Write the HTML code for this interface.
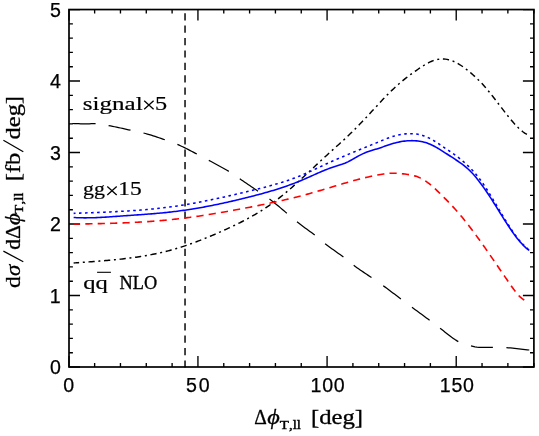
<!DOCTYPE html>
<html><head><meta charset="utf-8"><title>plot</title>
<style>html,body{margin:0;padding:0;background:#fff}svg{display:block}</style></head>
<body>
<svg width="539" height="436" viewBox="0 0 539 436">
<rect width="539" height="436" fill="#fff"/>
<rect x="69.0" y="9.55" width="464.90" height="357.45" fill="none" stroke="#000" stroke-width="1.7"/>
<path d="M69.00,367.0v-11.0M69.00,9.55v11.0M94.63,367.0v-3.9M94.63,9.55v3.9M120.46,367.0v-3.9M120.46,9.55v3.9M146.28,367.0v-3.9M146.28,9.55v3.9M172.11,367.0v-3.9M172.11,9.55v3.9M197.94,367.0v-11.0M197.94,9.55v11.0M223.77,367.0v-3.9M223.77,9.55v3.9M249.59,367.0v-3.9M249.59,9.55v3.9M275.42,367.0v-3.9M275.42,9.55v3.9M301.25,367.0v-3.9M301.25,9.55v3.9M327.08,367.0v-11.0M327.08,9.55v11.0M352.91,367.0v-3.9M352.91,9.55v3.9M378.73,367.0v-3.9M378.73,9.55v3.9M404.56,367.0v-3.9M404.56,9.55v3.9M430.39,367.0v-3.9M430.39,9.55v3.9M456.22,367.0v-11.0M456.22,9.55v11.0M482.04,367.0v-3.9M482.04,9.55v3.9M507.87,367.0v-3.9M507.87,9.55v3.9M533.90,367.0v-3.9M533.90,9.55v3.9M69.0,367.00h11.0M533.9,367.00h-11.0M69.0,352.70h3.9M533.9,352.70h-3.9M69.0,338.40h3.9M533.9,338.40h-3.9M69.0,324.11h3.9M533.9,324.11h-3.9M69.0,309.81h3.9M533.9,309.81h-3.9M69.0,295.51h11.0M533.9,295.51h-11.0M69.0,281.21h3.9M533.9,281.21h-3.9M69.0,266.91h3.9M533.9,266.91h-3.9M69.0,252.62h3.9M533.9,252.62h-3.9M69.0,238.32h3.9M533.9,238.32h-3.9M69.0,224.02h11.0M533.9,224.02h-11.0M69.0,209.72h3.9M533.9,209.72h-3.9M69.0,195.42h3.9M533.9,195.42h-3.9M69.0,181.13h3.9M533.9,181.13h-3.9M69.0,166.83h3.9M533.9,166.83h-3.9M69.0,152.53h11.0M533.9,152.53h-11.0M69.0,138.23h3.9M533.9,138.23h-3.9M69.0,123.93h3.9M533.9,123.93h-3.9M69.0,109.64h3.9M533.9,109.64h-3.9M69.0,95.34h3.9M533.9,95.34h-3.9M69.0,81.04h11.0M533.9,81.04h-11.0M69.0,66.74h3.9M533.9,66.74h-3.9M69.0,52.44h3.9M533.9,52.44h-3.9M69.0,38.15h3.9M533.9,38.15h-3.9M69.0,23.85h3.9M533.9,23.85h-3.9M69.0,9.55h11.0M533.9,9.55h-11.0" stroke="#000" stroke-width="1.35" fill="none"/>
<path d="M185.03,367.6V9.55" stroke="#000" stroke-width="1.45" fill="none" stroke-dasharray="7.2 5.2"/>
<path d="M72.30,123.50 L74.42,123.51 L76.54,123.60 L78.65,123.74 L80.77,123.89 L82.89,123.98 L85.01,123.99 L87.13,123.93 L89.25,123.82 L91.36,123.71 L93.48,123.63 L95.60,123.60M108.60,125.60 L110.59,125.96 L112.58,126.34 L114.57,126.74 L116.56,127.15 L118.55,127.58 L120.55,128.01 L122.54,128.45 L124.53,128.89 L126.52,129.33 L128.51,129.77 L130.50,130.20M143.50,133.00 L145.44,133.51 L147.37,134.04 L149.31,134.61 L151.25,135.20 L153.18,135.81 L155.12,136.44 L157.05,137.08 L158.99,137.74 L160.93,138.40 L162.86,139.06 L164.80,139.73M177.40,144.40 L179.16,145.16 L180.93,145.96 L182.69,146.79 L184.45,147.65 L186.22,148.53 L187.98,149.43 L189.75,150.34 L191.51,151.25 L193.27,152.17 L195.04,153.09 L196.80,154.00M208.80,160.35 L210.62,161.32 L212.44,162.29 L214.25,163.26 L216.07,164.23 L217.89,165.20 L219.71,166.18 L221.53,167.18 L223.35,168.20 L225.16,169.24 L226.98,170.30 L228.80,171.40M239.80,178.80 L241.45,179.92 L243.11,181.04 L244.76,182.17 L246.42,183.30 L248.07,184.43 L249.73,185.56 L251.38,186.69 L253.04,187.82 L254.69,188.95 L256.35,190.07 L258.00,191.20M269.50,199.00 L271.07,200.18 L272.65,201.40 L274.22,202.65 L275.79,203.94 L277.36,205.24 L278.94,206.56 L280.51,207.89 L282.08,209.22 L283.65,210.55 L285.23,211.88 L286.80,213.20M297.00,221.80 L298.61,223.07 L300.22,224.30 L301.83,225.51 L303.44,226.70 L305.05,227.88 L306.65,229.06 L308.26,230.23 L309.87,231.42 L311.48,232.62 L313.09,233.85 L314.70,235.10M325.10,243.70 L326.76,244.98 L328.43,246.23 L330.09,247.45 L331.75,248.65 L333.42,249.84 L335.08,251.03 L336.75,252.21 L338.41,253.41 L340.07,254.61 L341.74,255.84 L343.40,257.10M353.70,265.30 L355.32,266.49 L356.94,267.65 L358.55,268.79 L360.17,269.91 L361.79,271.02 L363.41,272.11 L365.03,273.21 L366.65,274.30 L368.26,275.39 L369.88,276.49 L371.50,277.60M383.20,285.70 L384.81,286.87 L386.42,288.05 L388.03,289.25 L389.64,290.45 L391.25,291.67 L392.85,292.89 L394.46,294.12 L396.07,295.35 L397.68,296.57 L399.29,297.79 L400.90,299.00M412.00,307.30 L413.60,308.49 L415.20,309.67 L416.80,310.85 L418.40,312.02 L420.00,313.20 L421.60,314.37 L423.20,315.55 L424.80,316.73 L426.40,317.91 L428.00,319.10 L429.60,320.30M440.10,328.30 L441.75,329.56 L443.41,330.84 L445.06,332.14 L446.72,333.45 L448.37,334.75 L450.03,336.02 L451.68,337.26 L453.34,338.45 L454.99,339.58 L456.65,340.63 L458.30,341.60M471.00,345.90 L472.99,346.34 L474.98,346.80 L476.97,347.16 L478.96,347.30 L480.95,347.33 L482.95,347.35 L484.94,347.37 L486.93,347.38 L488.92,347.39 L490.91,347.40 L492.90,347.40M506.40,347.60 L508.48,347.76 L510.56,347.96 L512.65,348.19 L514.73,348.43 L516.81,348.67 L518.89,348.89 L520.97,349.11 L523.05,349.33 L525.14,349.55 L527.22,349.78 L529.30,350.00" stroke="#000" stroke-width="1.25" fill="none"/>
<path d="M73.65,262.99 L75.17,262.88 L76.70,262.77 L78.22,262.66 L79.74,262.55 L81.27,262.44 L82.79,262.33 L84.32,262.22 L85.84,262.11 L87.36,261.99 L88.89,261.88 L90.41,261.77 L91.93,261.66 L93.46,261.54 L94.98,261.43 L96.51,261.31 L98.03,261.19 L99.55,261.07 L101.08,260.95 L102.60,260.83 L104.12,260.70 L105.65,260.57 L107.17,260.44 L108.70,260.31 L110.22,260.17 L111.74,260.03 L113.27,259.88 L114.79,259.73 L116.31,259.58 L117.84,259.43 L119.36,259.27 L120.89,259.10 L122.41,258.93 L123.93,258.76 L125.46,258.58 L126.98,258.40 L128.50,258.21 L130.03,258.01 L131.55,257.81 L133.08,257.61 L134.60,257.39 L136.12,257.18 L137.65,256.95 L139.17,256.72 L140.69,256.48 L142.22,256.24 L143.74,255.98 L145.27,255.73 L146.79,255.46 L148.31,255.18 L149.84,254.90 L151.36,254.61 L152.88,254.31 L154.41,254.00 L155.93,253.69 L157.46,253.36 L158.98,253.03 L160.50,252.69 L162.03,252.34 L163.55,251.98 L165.07,251.60 L166.60,251.22 L168.12,250.83 L169.65,250.43 L171.17,250.02 L172.69,249.60 L174.22,249.16 L175.74,248.72 L177.26,248.27 L178.79,247.80 L180.31,247.33 L181.84,246.84 L183.36,246.35 L184.88,245.85 L186.41,245.34 L187.93,244.81 L189.45,244.28 L190.98,243.75 L192.50,243.20 L194.03,242.64 L195.55,242.08 L197.07,241.50 L198.60,240.92 L200.12,240.34 L201.64,239.74 L203.17,239.14 L204.69,238.53 L206.22,237.91 L207.74,237.29 L209.26,236.65 L210.79,236.02 L212.31,235.37 L213.83,234.72 L215.36,234.07 L216.88,233.41 L218.41,232.74 L219.93,232.07 L221.45,231.39 L222.98,230.71 L224.50,230.02 L226.02,229.33 L227.55,228.63 L229.07,227.92 L230.60,227.21 L232.12,226.49 L233.64,225.77 L235.17,225.03 L236.69,224.29 L238.21,223.54 L239.74,222.78 L241.26,222.01 L242.79,221.23 L244.31,220.43 L245.83,219.63 L247.36,218.81 L248.88,217.98 L250.40,217.14 L251.93,216.28 L253.45,215.41 L254.98,214.52 L256.50,213.62 L258.02,212.70 L259.55,211.77 L261.07,210.81 L262.59,209.85 L264.12,208.86 L265.64,207.85 L267.17,206.83 L268.69,205.79 L270.21,204.72 L271.74,203.64 L273.26,202.53 L274.78,201.40 L276.31,200.25 L277.83,199.08 L279.36,197.89 L280.88,196.68 L282.40,195.45 L283.93,194.20 L285.45,192.93 L286.97,191.64 L288.50,190.34 L290.02,189.03 L291.55,187.70 L293.07,186.36 L294.59,185.00 L296.12,183.64 L297.64,182.26 L299.16,180.88 L300.69,179.49 L302.21,178.09 L303.74,176.68 L305.26,175.27 L306.78,173.85 L308.31,172.43 L309.83,171.01 L311.35,169.58 L312.88,168.16 L314.40,166.73 L315.93,165.30 L317.45,163.88 L318.97,162.46 L320.50,161.04 L322.02,159.62 L323.54,158.22 L325.07,156.81 L326.59,155.42 L328.12,154.03 L329.64,152.65 L331.16,151.28 L332.69,149.91 L334.21,148.54 L335.73,147.17 L337.26,145.80 L338.78,144.43 L340.31,143.05 L341.83,141.66 L343.35,140.27 L344.88,138.86 L346.40,137.44 L347.92,136.01 L349.45,134.56 L350.97,133.10 L352.50,131.61 L354.02,130.10 L355.54,128.57 L357.07,127.02 L358.59,125.46 L360.11,123.87 L361.64,122.28 L363.16,120.67 L364.69,119.05 L366.21,117.42 L367.73,115.78 L369.26,114.14 L370.78,112.49 L372.30,110.84 L373.83,109.19 L375.35,107.54 L376.88,105.89 L378.40,104.25 L379.92,102.61 L381.45,100.99 L382.97,99.37 L384.49,97.77 L386.02,96.19 L387.54,94.63 L389.07,93.09 L390.59,91.59 L392.11,90.11 L393.64,88.67 L395.16,87.26 L396.68,85.88 L398.21,84.53 L399.73,83.20 L401.26,81.91 L402.78,80.65 L404.30,79.41 L405.83,78.19 L407.35,77.00 L408.87,75.83 L410.40,74.68 L411.92,73.56 L413.45,72.45 L414.97,71.36 L416.49,70.29 L418.02,69.23 L419.54,68.19 L421.06,67.18 L422.59,66.19 L424.11,65.25 L425.64,64.34 L427.16,63.48 L428.68,62.68 L430.21,61.94 L431.73,61.27 L433.25,60.67 L434.78,60.15 L436.30,59.73 L437.83,59.39 L439.35,59.16 L440.87,59.01 L442.40,58.97 L443.92,59.02 L445.44,59.15 L446.97,59.38 L448.49,59.70 L450.02,60.11 L451.54,60.60 L453.06,61.17 L454.59,61.83 L456.11,62.57 L457.63,63.39 L459.16,64.28 L460.68,65.24 L462.21,66.26 L463.73,67.35 L465.25,68.48 L466.78,69.66 L468.30,70.88 L469.82,72.13 L471.35,73.41 L472.87,74.74 L474.40,76.09 L475.92,77.50 L477.44,78.94 L478.97,80.44 L480.49,81.99 L482.01,83.60 L483.54,85.27 L485.06,87.00 L486.59,88.77 L488.11,90.60 L489.63,92.46 L491.16,94.36 L492.68,96.29 L494.20,98.24 L495.73,100.21 L497.25,102.20 L498.78,104.19 L500.30,106.19 L501.82,108.18 L503.35,110.16 L504.87,112.13 L506.39,114.08 L507.92,116.00 L509.44,117.90 L510.97,119.75 L512.49,121.55 L514.01,123.30 L515.54,124.97 L517.06,126.57 L518.58,128.08 L520.11,129.50 L521.63,130.80 L523.16,131.99 L524.68,133.06 L526.20,133.98 L527.73,134.77 L529.25,135.39" stroke="#000" stroke-width="1.45" fill="none" stroke-dasharray="6.2 3.7 2 3.7" stroke-dashoffset="0.7"/>
<path d="M73.65,224.07 L75.17,224.05 L76.69,224.03 L78.21,224.00 L79.73,223.98 L81.25,223.96 L82.77,223.93 L84.29,223.91 L85.80,223.88 L87.32,223.85 L88.84,223.83 L90.36,223.80 L91.88,223.77 L93.40,223.74 L94.92,223.71 L96.44,223.68 L97.96,223.65 L99.48,223.62 L101.00,223.58 L102.52,223.55 L104.04,223.51 L105.56,223.47 L107.08,223.43 L108.60,223.39 L110.12,223.35 L111.63,223.30 L113.15,223.26 L114.67,223.21 L116.19,223.16 L117.71,223.11 L119.23,223.05 L120.75,223.00 L122.27,222.94 L123.79,222.88 L125.31,222.82 L126.83,222.75 L128.35,222.69 L129.87,222.62 L131.39,222.55 L132.91,222.47 L134.43,222.40 L135.95,222.32 L137.47,222.24 L138.98,222.15 L140.50,222.07 L142.02,221.98 L143.54,221.88 L145.06,221.79 L146.58,221.69 L148.10,221.59 L149.62,221.48 L151.14,221.37 L152.66,221.26 L154.18,221.15 L155.70,221.03 L157.22,220.90 L158.74,220.78 L160.26,220.65 L161.78,220.52 L163.30,220.38 L164.82,220.24 L166.33,220.10 L167.85,219.95 L169.37,219.79 L170.89,219.64 L172.41,219.48 L173.93,219.31 L175.45,219.15 L176.97,218.97 L178.49,218.80 L180.01,218.62 L181.53,218.43 L183.05,218.24 L184.57,218.05 L186.09,217.86 L187.61,217.66 L189.13,217.45 L190.65,217.25 L192.16,217.04 L193.68,216.83 L195.20,216.61 L196.72,216.39 L198.24,216.17 L199.76,215.94 L201.28,215.71 L202.80,215.48 L204.32,215.25 L205.84,215.01 L207.36,214.77 L208.88,214.53 L210.40,214.29 L211.92,214.04 L213.44,213.79 L214.96,213.54 L216.48,213.28 L218.00,213.03 L219.51,212.77 L221.03,212.51 L222.55,212.24 L224.07,211.98 L225.59,211.71 L227.11,211.44 L228.63,211.17 L230.15,210.90 L231.67,210.63 L233.19,210.35 L234.71,210.07 L236.23,209.79 L237.75,209.51 L239.27,209.23 L240.79,208.94 L242.31,208.65 L243.83,208.36 L245.34,208.07 L246.86,207.78 L248.38,207.48 L249.90,207.19 L251.42,206.89 L252.94,206.59 L254.46,206.28 L255.98,205.98 L257.50,205.67 L259.02,205.37 L260.54,205.06 L262.06,204.74 L263.58,204.43 L265.10,204.11 L266.62,203.80 L268.14,203.48 L269.66,203.16 L271.18,202.83 L272.69,202.51 L274.21,202.18 L275.73,201.85 L277.25,201.52 L278.77,201.19 L280.29,200.86 L281.81,200.52 L283.33,200.18 L284.85,199.84 L286.37,199.49 L287.89,199.14 L289.41,198.78 L290.93,198.42 L292.45,198.06 L293.97,197.69 L295.49,197.32 L297.01,196.94 L298.53,196.56 L300.04,196.17 L301.56,195.77 L303.08,195.37 L304.60,194.96 L306.12,194.54 L307.64,194.12 L309.16,193.70 L310.68,193.27 L312.20,192.84 L313.72,192.40 L315.24,191.96 L316.76,191.51 L318.28,191.06 L319.80,190.61 L321.32,190.16 L322.84,189.71 L324.36,189.25 L325.87,188.79 L327.39,188.34 L328.91,187.88 L330.43,187.42 L331.95,186.96 L333.47,186.50 L334.99,186.05 L336.51,185.59 L338.03,185.14 L339.55,184.68 L341.07,184.23 L342.59,183.79 L344.11,183.34 L345.63,182.90 L347.15,182.46 L348.67,182.03 L350.19,181.60 L351.71,181.18 L353.22,180.76 L354.74,180.34 L356.26,179.93 L357.78,179.53 L359.30,179.14 L360.82,178.75 L362.34,178.37 L363.86,177.99 L365.38,177.62 L366.90,177.27 L368.42,176.92 L369.94,176.58 L371.46,176.24 L372.98,175.92 L374.50,175.61 L376.02,175.31 L377.54,175.01 L379.06,174.73 L380.57,174.46 L382.09,174.21 L383.61,173.98 L385.13,173.77 L386.65,173.58 L388.17,173.43 L389.69,173.31 L391.21,173.23 L392.73,173.20 L394.25,173.20 L395.77,173.24 L397.29,173.32 L398.81,173.43 L400.33,173.56 L401.85,173.71 L403.37,173.88 L404.89,174.06 L406.40,174.26 L407.92,174.47 L409.44,174.71 L410.96,174.98 L412.48,175.30 L414.00,175.67 L415.52,176.11 L417.04,176.61 L418.56,177.19 L420.08,177.86 L421.60,178.63 L423.12,179.48 L424.64,180.42 L426.16,181.44 L427.68,182.54 L429.20,183.70 L430.72,184.93 L432.24,186.21 L433.75,187.55 L435.27,188.93 L436.79,190.34 L438.31,191.80 L439.83,193.28 L441.35,194.78 L442.87,196.30 L444.39,197.83 L445.91,199.37 L447.43,200.92 L448.95,202.49 L450.47,204.08 L451.99,205.70 L453.51,207.34 L455.03,209.01 L456.55,210.71 L458.07,212.45 L459.59,214.22 L461.10,216.03 L462.62,217.86 L464.14,219.73 L465.66,221.63 L467.18,223.56 L468.70,225.51 L470.22,227.49 L471.74,229.49 L473.26,231.52 L474.78,233.57 L476.30,235.64 L477.82,237.72 L479.34,239.83 L480.86,241.95 L482.38,244.09 L483.90,246.24 L485.42,248.40 L486.93,250.57 L488.45,252.76 L489.97,254.95 L491.49,257.15 L493.01,259.36 L494.53,261.57 L496.05,263.78 L497.57,266.00 L499.09,268.22 L500.61,270.44 L502.13,272.66 L503.65,274.88 L505.17,277.10 L506.69,279.32 L508.21,281.53 L509.73,283.74 L511.25,285.92 L512.77,288.05 L514.28,290.10 L515.80,292.06 L517.32,293.89 L518.84,295.58 L520.36,297.11 L521.88,298.44 L523.40,299.56 L524.92,300.44 L526.44,301.06 L527.96,301.40" stroke="#f00" stroke-width="1.6" fill="none" stroke-dasharray="7.2 5.18" stroke-dashoffset="0.7"/>
<path d="M73.65,217.50 L75.17,217.59 L76.70,217.67 L78.22,217.73 L79.74,217.78 L81.27,217.82 L82.79,217.85 L84.32,217.86 L85.84,217.86 L87.36,217.85 L88.89,217.84 L90.41,217.81 L91.93,217.77 L93.46,217.72 L94.98,217.67 L96.51,217.61 L98.03,217.54 L99.55,217.47 L101.08,217.39 L102.60,217.30 L104.12,217.21 L105.65,217.12 L107.17,217.02 L108.70,216.91 L110.22,216.81 L111.74,216.70 L113.27,216.59 L114.79,216.48 L116.31,216.37 L117.84,216.26 L119.36,216.15 L120.89,216.04 L122.41,215.93 L123.93,215.83 L125.46,215.72 L126.98,215.62 L128.50,215.51 L130.03,215.41 L131.55,215.30 L133.08,215.20 L134.60,215.09 L136.12,214.99 L137.65,214.88 L139.17,214.77 L140.69,214.66 L142.22,214.55 L143.74,214.44 L145.27,214.33 L146.79,214.22 L148.31,214.10 L149.84,213.98 L151.36,213.86 L152.88,213.73 L154.41,213.61 L155.93,213.48 L157.46,213.34 L158.98,213.21 L160.50,213.06 L162.03,212.92 L163.55,212.77 L165.07,212.62 L166.60,212.46 L168.12,212.30 L169.65,212.13 L171.17,211.96 L172.69,211.78 L174.22,211.60 L175.74,211.41 L177.26,211.21 L178.79,211.01 L180.31,210.81 L181.84,210.60 L183.36,210.39 L184.88,210.17 L186.41,209.94 L187.93,209.71 L189.45,209.48 L190.98,209.24 L192.50,208.99 L194.03,208.74 L195.55,208.49 L197.07,208.23 L198.60,207.97 L200.12,207.70 L201.64,207.43 L203.17,207.15 L204.69,206.87 L206.22,206.58 L207.74,206.30 L209.26,206.00 L210.79,205.70 L212.31,205.40 L213.83,205.10 L215.36,204.79 L216.88,204.47 L218.41,204.15 L219.93,203.83 L221.45,203.51 L222.98,203.18 L224.50,202.85 L226.02,202.51 L227.55,202.17 L229.07,201.83 L230.60,201.48 L232.12,201.13 L233.64,200.78 L235.17,200.42 L236.69,200.06 L238.21,199.70 L239.74,199.33 L241.26,198.96 L242.79,198.59 L244.31,198.21 L245.83,197.83 L247.36,197.45 L248.88,197.07 L250.40,196.68 L251.93,196.29 L253.45,195.90 L254.98,195.50 L256.50,195.10 L258.02,194.70 L259.55,194.29 L261.07,193.88 L262.59,193.46 L264.12,193.04 L265.64,192.61 L267.17,192.18 L268.69,191.74 L270.21,191.30 L271.74,190.85 L273.26,190.39 L274.78,189.92 L276.31,189.45 L277.83,188.97 L279.36,188.48 L280.88,187.98 L282.40,187.48 L283.93,186.97 L285.45,186.44 L286.97,185.91 L288.50,185.37 L290.02,184.82 L291.55,184.26 L293.07,183.69 L294.59,183.11 L296.12,182.51 L297.64,181.91 L299.16,181.30 L300.69,180.67 L302.21,180.03 L303.74,179.38 L305.26,178.72 L306.78,178.05 L308.31,177.38 L309.83,176.70 L311.35,176.02 L312.88,175.34 L314.40,174.65 L315.93,173.98 L317.45,173.30 L318.97,172.63 L320.50,171.97 L322.02,171.32 L323.54,170.68 L325.07,170.05 L326.59,169.44 L328.12,168.85 L329.64,168.27 L331.16,167.71 L332.69,167.18 L334.21,166.66 L335.73,166.18 L337.26,165.71 L338.78,165.26 L340.31,164.81 L341.83,164.33 L343.35,163.80 L344.88,163.22 L346.40,162.56 L347.92,161.83 L349.45,161.04 L350.97,160.21 L352.50,159.35 L354.02,158.48 L355.54,157.61 L357.07,156.76 L358.59,155.92 L360.11,155.12 L361.64,154.35 L363.16,153.62 L364.69,152.95 L366.21,152.34 L367.73,151.77 L369.26,151.24 L370.78,150.75 L372.30,150.28 L373.83,149.82 L375.35,149.36 L376.88,148.90 L378.40,148.43 L379.92,147.94 L381.45,147.42 L382.97,146.89 L384.49,146.35 L386.02,145.81 L387.54,145.28 L389.07,144.76 L390.59,144.26 L392.11,143.78 L393.64,143.33 L395.16,142.92 L396.68,142.53 L398.21,142.18 L399.73,141.87 L401.26,141.59 L402.78,141.34 L404.30,141.13 L405.83,140.96 L407.35,140.82 L408.87,140.73 L410.40,140.67 L411.92,140.65 L413.45,140.68 L414.97,140.75 L416.49,140.86 L418.02,141.02 L419.54,141.23 L421.06,141.49 L422.59,141.80 L424.11,142.18 L425.64,142.61 L427.16,143.10 L428.68,143.66 L430.21,144.28 L431.73,144.97 L433.25,145.72 L434.78,146.52 L436.30,147.38 L437.83,148.27 L439.35,149.19 L440.87,150.14 L442.40,151.10 L443.92,152.07 L445.44,153.04 L446.97,154.02 L448.49,155.00 L450.02,155.98 L451.54,156.97 L453.06,157.96 L454.59,158.97 L456.11,159.98 L457.63,161.00 L459.16,162.04 L460.68,163.11 L462.21,164.22 L463.73,165.37 L465.25,166.58 L466.78,167.86 L468.30,169.22 L469.82,170.67 L471.35,172.21 L472.87,173.84 L474.40,175.55 L475.92,177.35 L477.44,179.22 L478.97,181.16 L480.49,183.16 L482.01,185.23 L483.54,187.36 L485.06,189.54 L486.59,191.76 L488.11,194.04 L489.63,196.35 L491.16,198.69 L492.68,201.07 L494.20,203.47 L495.73,205.89 L497.25,208.33 L498.78,210.77 L500.30,213.22 L501.82,215.66 L503.35,218.09 L504.87,220.50 L506.39,222.88 L507.92,225.22 L509.44,227.53 L510.97,229.78 L512.49,231.98 L514.01,234.11 L515.54,236.18 L517.06,238.16 L518.58,240.07 L520.11,241.87 L521.63,243.58 L523.16,245.19 L524.68,246.68 L526.20,248.04 L527.73,249.28 L529.25,250.39" stroke="#00f" stroke-width="1.55" fill="none"/>
<path d="M73.65,213.37 L75.17,213.31 L76.70,213.25 L78.22,213.19 L79.74,213.14 L81.27,213.08 L82.79,213.02 L84.32,212.96 L85.84,212.91 L87.36,212.85 L88.89,212.79 L90.41,212.73 L91.93,212.67 L93.46,212.61 L94.98,212.56 L96.51,212.49 L98.03,212.43 L99.55,212.37 L101.08,212.31 L102.60,212.24 L104.12,212.18 L105.65,212.11 L107.17,212.05 L108.70,211.98 L110.22,211.91 L111.74,211.83 L113.27,211.76 L114.79,211.68 L116.31,211.61 L117.84,211.53 L119.36,211.44 L120.89,211.36 L122.41,211.28 L123.93,211.19 L125.46,211.10 L126.98,211.00 L128.50,210.91 L130.03,210.81 L131.55,210.71 L133.08,210.60 L134.60,210.50 L136.12,210.39 L137.65,210.27 L139.17,210.16 L140.69,210.04 L142.22,209.92 L143.74,209.79 L145.27,209.66 L146.79,209.53 L148.31,209.39 L149.84,209.25 L151.36,209.10 L152.88,208.95 L154.41,208.80 L155.93,208.64 L157.46,208.48 L158.98,208.31 L160.50,208.14 L162.03,207.97 L163.55,207.79 L165.07,207.60 L166.60,207.41 L168.12,207.22 L169.65,207.02 L171.17,206.82 L172.69,206.61 L174.22,206.39 L175.74,206.17 L177.26,205.95 L178.79,205.72 L180.31,205.48 L181.84,205.24 L183.36,205.00 L184.88,204.75 L186.41,204.49 L187.93,204.24 L189.45,203.97 L190.98,203.71 L192.50,203.43 L194.03,203.16 L195.55,202.88 L197.07,202.60 L198.60,202.31 L200.12,202.02 L201.64,201.72 L203.17,201.43 L204.69,201.12 L206.22,200.82 L207.74,200.51 L209.26,200.20 L210.79,199.88 L212.31,199.56 L213.83,199.24 L215.36,198.92 L216.88,198.59 L218.41,198.26 L219.93,197.93 L221.45,197.59 L222.98,197.25 L224.50,196.91 L226.02,196.57 L227.55,196.23 L229.07,195.88 L230.60,195.53 L232.12,195.18 L233.64,194.82 L235.17,194.47 L236.69,194.11 L238.21,193.75 L239.74,193.39 L241.26,193.03 L242.79,192.67 L244.31,192.30 L245.83,191.94 L247.36,191.57 L248.88,191.20 L250.40,190.83 L251.93,190.46 L253.45,190.09 L254.98,189.71 L256.50,189.34 L258.02,188.96 L259.55,188.58 L261.07,188.19 L262.59,187.80 L264.12,187.41 L265.64,187.01 L267.17,186.60 L268.69,186.19 L270.21,185.78 L271.74,185.36 L273.26,184.93 L274.78,184.49 L276.31,184.05 L277.83,183.60 L279.36,183.14 L280.88,182.67 L282.40,182.19 L283.93,181.71 L285.45,181.21 L286.97,180.70 L288.50,180.19 L290.02,179.66 L291.55,179.12 L293.07,178.57 L294.59,178.00 L296.12,177.42 L297.64,176.83 L299.16,176.23 L300.69,175.61 L302.21,174.98 L303.74,174.33 L305.26,173.68 L306.78,173.01 L308.31,172.33 L309.83,171.64 L311.35,170.94 L312.88,170.24 L314.40,169.53 L315.93,168.82 L317.45,168.10 L318.97,167.39 L320.50,166.67 L322.02,165.95 L323.54,165.24 L325.07,164.53 L326.59,163.82 L328.12,163.13 L329.64,162.43 L331.16,161.74 L332.69,161.06 L334.21,160.39 L335.73,159.72 L337.26,159.05 L338.78,158.39 L340.31,157.73 L341.83,157.08 L343.35,156.43 L344.88,155.79 L346.40,155.15 L347.92,154.51 L349.45,153.87 L350.97,153.24 L352.50,152.61 L354.02,151.98 L355.54,151.35 L357.07,150.73 L358.59,150.11 L360.11,149.48 L361.64,148.86 L363.16,148.24 L364.69,147.62 L366.21,147.00 L367.73,146.38 L369.26,145.76 L370.78,145.13 L372.30,144.51 L373.83,143.89 L375.35,143.26 L376.88,142.63 L378.40,142.00 L379.92,141.37 L381.45,140.74 L382.97,140.11 L384.49,139.50 L386.02,138.89 L387.54,138.31 L389.07,137.74 L390.59,137.21 L392.11,136.71 L393.64,136.24 L395.16,135.80 L396.68,135.41 L398.21,135.05 L399.73,134.73 L401.26,134.46 L402.78,134.22 L404.30,134.03 L405.83,133.87 L407.35,133.76 L408.87,133.70 L410.40,133.68 L411.92,133.71 L413.45,133.78 L414.97,133.91 L416.49,134.09 L418.02,134.33 L419.54,134.63 L421.06,135.00 L422.59,135.44 L424.11,135.94 L425.64,136.52 L427.16,137.15 L428.68,137.86 L430.21,138.62 L431.73,139.45 L433.25,140.33 L434.78,141.26 L436.30,142.22 L437.83,143.22 L439.35,144.24 L440.87,145.28 L442.40,146.32 L443.92,147.36 L445.44,148.40 L446.97,149.43 L448.49,150.47 L450.02,151.51 L451.54,152.57 L453.06,153.64 L454.59,154.73 L456.11,155.84 L457.63,156.98 L459.16,158.16 L460.68,159.37 L462.21,160.62 L463.73,161.91 L465.25,163.25 L466.78,164.64 L468.30,166.08 L469.82,167.59 L471.35,169.15 L472.87,170.78 L474.40,172.48 L475.92,174.25 L477.44,176.10 L478.97,178.03 L480.49,180.04 L482.01,182.14 L483.54,184.34 L485.06,186.61 L486.59,188.96 L488.11,191.37 L489.63,193.83 L491.16,196.34 L492.68,198.88 L494.20,201.44 L495.73,204.01 L497.25,206.59 L498.78,209.16 L500.30,211.73 L501.82,214.27 L503.35,216.80 L504.87,219.30 L506.39,221.76 L507.92,224.17 L509.44,226.54 L510.97,228.86 L512.49,231.11 L514.01,233.30 L515.54,235.41 L517.06,237.43 L518.58,239.37 L520.11,241.22 L521.63,242.97 L523.16,244.60 L524.68,246.13 L526.20,247.53 L527.73,248.81 L529.25,249.95" stroke="#00f" stroke-width="1.55" fill="none" stroke-dasharray="2.6 3.43" stroke-dashoffset="0.7"/>
<g style="will-change:transform">
<text font-family="Liberation Sans, sans-serif" font-size="19.6" font-kerning="none" stroke="#000" stroke-width="0.25" letter-spacing="0.000" x="63.35" y="391.9">0</text>
<text font-family="Liberation Sans, sans-serif" font-size="19.6" font-kerning="none" stroke="#000" stroke-width="0.25" letter-spacing="2.049" x="185.92" y="391.9">50</text>
<text font-family="Liberation Sans, sans-serif" font-size="19.6" font-kerning="none" stroke="#000" stroke-width="0.25" letter-spacing="0.778" x="310.51" y="391.9">100</text>
<text font-family="Liberation Sans, sans-serif" font-size="19.6" font-kerning="none" stroke="#000" stroke-width="0.25" letter-spacing="0.728" x="439.81" y="391.9">150</text>
<text font-family="Liberation Sans, sans-serif" font-size="19.6" font-kerning="none" stroke="#000" stroke-width="0.25" letter-spacing="0.000" x="49.90" y="374.4">0</text>
<text font-family="Liberation Sans, sans-serif" font-size="19.6" font-kerning="none" stroke="#000" stroke-width="0.25" letter-spacing="0.000" x="49.63" y="302.90999999999997">1</text>
<text font-family="Liberation Sans, sans-serif" font-size="19.6" font-kerning="none" stroke="#000" stroke-width="0.25" letter-spacing="0.000" x="49.90" y="231.42000000000002">2</text>
<text font-family="Liberation Sans, sans-serif" font-size="19.6" font-kerning="none" stroke="#000" stroke-width="0.25" letter-spacing="0.000" x="49.96" y="159.93000000000004">3</text>
<text font-family="Liberation Sans, sans-serif" font-size="19.6" font-kerning="none" stroke="#000" stroke-width="0.25" letter-spacing="0.000" x="49.96" y="88.44000000000003">4</text>
<text font-family="Liberation Sans, sans-serif" font-size="19.6" font-kerning="none" stroke="#000" stroke-width="0.25" letter-spacing="0.000" x="49.92" y="16.95000000000001">5</text>
<text font-family="Liberation Serif, serif" font-size="19.4" font-kerning="none" style="font-kerning:none" stroke="#000" stroke-width="0.2" transform="translate(82.87,109.5) scale(1.2911,1.0)">signal</text>
<path d="M144.20000000000002,100.8L153.6,109.2M144.20000000000002,109.2L153.6,100.8" stroke="#000" stroke-width="1.3" fill="none"/>
<text font-family="Liberation Serif, serif" font-size="19.4" font-kerning="none" style="font-kerning:none" stroke="#000" stroke-width="0.2" transform="translate(155.09,109.5) scale(1.2540,1.0)">5</text>
<text font-family="Liberation Serif, serif" font-size="19.4" font-kerning="none" style="font-kerning:none" stroke="#000" stroke-width="0.2" transform="translate(82.96,195.3) scale(1.1321,1.0)">gg</text>
<path d="M107.3,186.60000000000002L116.7,195.0M107.3,195.0L116.7,186.60000000000002" stroke="#000" stroke-width="1.3" fill="none"/>
<text font-family="Liberation Serif, serif" font-size="19.4" font-kerning="none" style="font-kerning:none" stroke="#000" stroke-width="0.2" transform="translate(118.34,195.3) scale(1.2104,1.0)">15</text>
<text font-family="Liberation Serif, serif" font-size="19.4" font-kerning="none" style="font-kerning:none" stroke="#000" stroke-width="0.2" transform="translate(83.31,288.6) scale(1.2644,1.0)">qq</text>
<text font-family="Liberation Serif, serif" font-size="19.4" font-kerning="none" style="font-kerning:none" stroke="#000" stroke-width="0.35" transform="translate(119.57,288.7) scale(0.9425,1.0)">NLO</text>
<path d="M97.1,272.3H110.9" stroke="#000" stroke-width="1.1"/>
<text font-family="Liberation Serif, serif" font-size="20.0" font-kerning="none" style="font-kerning:none" stroke="#000" stroke-width="0.3" transform="translate(254.25,423.6) scale(0.9782,1.0)">Δ</text>
<text font-family="Liberation Serif, serif" font-size="20.0" font-kerning="none" style="font-kerning:none" font-style="italic" stroke="#000" stroke-width="0.3" transform="translate(267.24,423.6) scale(1.2097,1.0)">ϕ</text>
<text font-family="Liberation Serif, serif" font-size="12.4" font-kerning="none" style="font-kerning:none" stroke="#000" stroke-width="0.4" transform="translate(279.83,429.2) scale(1.2052,1.0)">T,ll</text>
<text font-family="Liberation Serif, serif" font-size="20.0" font-kerning="none" style="font-kerning:none" stroke="#000" stroke-width="0.3" transform="translate(310.96,423.6) scale(1.2363,1.0)">[deg]</text>
<text font-family="Liberation Serif, serif" font-size="20.0" font-kerning="none" style="font-kerning:none" stroke="#000" stroke-width="0.3" transform="translate(19.5,288.04) rotate(-90) scale(1.1624,1.0)">d</text>
<text font-family="Liberation Serif, serif" font-size="20.0" font-kerning="none" style="font-kerning:none" font-style="italic" stroke="#000" stroke-width="0.3" transform="translate(19.5,275.98) rotate(-90) scale(1.1411,1.0)">σ</text>
<path d="M23.3,261.8L3.4,251.1" stroke="#000" stroke-width="1.25" fill="none"/>
<text font-family="Liberation Serif, serif" font-size="20.0" font-kerning="none" style="font-kerning:none" stroke="#000" stroke-width="0.3" transform="translate(19.5,249.78) rotate(-90) scale(1.0754,1.0)">dΔ</text>
<text font-family="Liberation Serif, serif" font-size="20.0" font-kerning="none" style="font-kerning:none" font-style="italic" stroke="#000" stroke-width="0.3" transform="translate(19.5,224.93) rotate(-90) scale(1.1460,1.0)">ϕ</text>
<text font-family="Liberation Serif, serif" font-size="12.4" font-kerning="none" style="font-kerning:none" stroke="#000" stroke-width="0.4" transform="translate(23.1,213.67) rotate(-90) scale(1.2052,1.0)">T,ll</text>
<text font-family="Liberation Serif, serif" font-size="20.0" font-kerning="none" style="font-kerning:none" stroke="#000" stroke-width="0.3" transform="translate(19.5,181.21) rotate(-90) scale(1.2195,1.0)">[fb</text>
<path d="M23.3,151.7L3.4,140.3" stroke="#000" stroke-width="1.25" fill="none"/>
<text font-family="Liberation Serif, serif" font-size="20.0" font-kerning="none" style="font-kerning:none" stroke="#000" stroke-width="0.3" transform="translate(19.5,139.38) rotate(-90) scale(1.2211,1.0)">deg]</text>
</g>
</svg>
</body></html>
